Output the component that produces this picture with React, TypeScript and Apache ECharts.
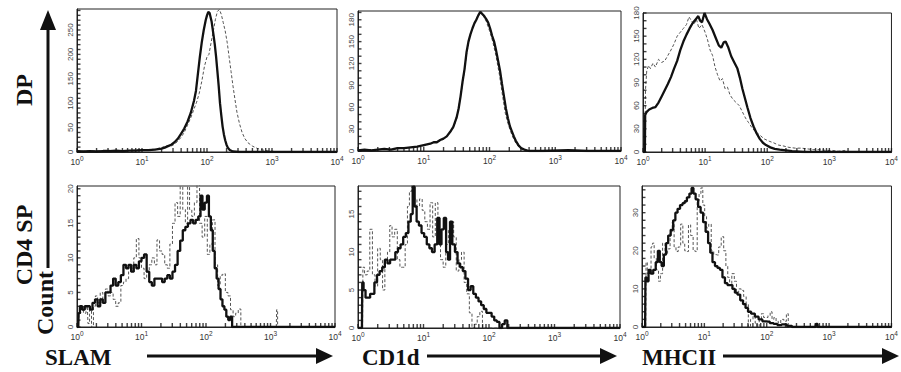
import React, { useEffect, useRef } from "react";
import * as echarts from "echarts";

// x values are log10 of fluorescence (decades), y values are cell counts
const decadeLabels = [0, 1, 2, 3, 4];

const dpSlamSolid = [[0,2],[0.1,1],[0.2,2],[0.3,1],[0.4,2],[0.5,2],[0.6,3],[0.7,2],[0.8,3],[0.9,3],[1.0,4],[1.1,4],[1.2,5],[1.3,7],[1.35,9],[1.4,12],[1.45,15],[1.5,20],[1.55,27],[1.6,37],[1.65,48],[1.7,62],[1.75,80],[1.8,105],[1.83,125],[1.86,160],[1.89,195],[1.92,225],[1.95,250],[1.98,270],[2.0,280],[2.02,287],[2.04,285],[2.07,268],[2.1,240],[2.12,220],[2.14,195],[2.16,165],[2.18,135],[2.2,100],[2.22,75],[2.24,52],[2.26,36],[2.28,24],[2.3,15],[2.32,9],[2.35,4],[2.4,1],[2.5,0],[4,0]];
const dpSlamDashed = [[0,1],[0.2,2],[0.4,2],[0.6,3],[0.8,3],[1.0,5],[1.1,5],[1.2,6],[1.3,9],[1.38,13],[1.45,12],[1.5,16],[1.55,22],[1.6,30],[1.65,40],[1.7,55],[1.75,70],[1.8,88],[1.84,102],[1.88,120],[1.92,145],[1.96,175],[2.0,195],[2.03,200],[2.06,222],[2.1,250],[2.13,272],[2.16,288],[2.19,292],[2.22,282],[2.25,265],[2.28,248],[2.31,225],[2.34,195],[2.37,165],[2.4,135],[2.43,108],[2.46,82],[2.5,58],[2.54,40],[2.58,28],[2.63,19],[2.7,12],[2.78,7],[2.86,4],[2.95,2],[3.05,1],[3.15,0],[4,0]];

const dpCd1dSolid = [[0,1],[0.1,2],[0.2,1],[0.3,2],[0.4,3],[0.5,2],[0.6,4],[0.7,4],[0.8,5],[0.9,6],[1.0,8],[1.05,9],[1.1,10],[1.15,12],[1.2,12],[1.25,15],[1.3,17],[1.35,20],[1.4,26],[1.45,33],[1.5,46],[1.53,58],[1.56,75],[1.59,95],[1.62,112],[1.65,135],[1.68,150],[1.71,160],[1.74,168],[1.77,175],[1.8,180],[1.83,186],[1.86,191],[1.89,188],[1.92,185],[1.95,181],[1.98,176],[2.01,168],[2.04,158],[2.07,150],[2.1,138],[2.13,124],[2.16,110],[2.19,92],[2.22,75],[2.25,58],[2.28,45],[2.31,34],[2.34,27],[2.37,20],[2.4,14],[2.44,8],[2.48,4],[2.53,2],[2.6,0],[2.8,0],[3.2,1],[3.5,0],[4,0]];
const dpCd1dDashed = [[0,2],[0.2,2],[0.4,2],[0.6,3],[0.8,5],[1.0,7],[1.1,10],[1.2,13],[1.3,16],[1.4,25],[1.45,32],[1.5,44],[1.55,70],[1.6,98],[1.65,132],[1.7,157],[1.75,170],[1.8,182],[1.85,190],[1.9,186],[1.95,178],[2.0,165],[2.05,150],[2.1,130],[2.15,105],[2.2,75],[2.24,52],[2.28,38],[2.32,27],[2.36,18],[2.4,11],[2.45,5],[2.5,2],[2.6,0],[4,0]];

const dpMhcSolid = [[0,0],[0.03,0],[0.035,48],[0.06,52],[0.1,55],[0.15,57],[0.2,58],[0.25,64],[0.3,72],[0.35,80],[0.4,88],[0.45,97],[0.5,108],[0.55,118],[0.6,132],[0.65,143],[0.7,152],[0.75,160],[0.8,167],[0.85,172],[0.89,176],[0.92,170],[0.95,168],[0.99,180],[1.03,172],[1.07,166],[1.12,158],[1.17,148],[1.22,138],[1.26,135],[1.3,142],[1.33,143],[1.37,136],[1.42,124],[1.47,116],[1.52,108],[1.56,96],[1.6,82],[1.64,70],[1.68,58],[1.73,44],[1.78,33],[1.83,24],[1.88,17],[1.93,12],[1.98,9],[2.05,6],[2.12,4],[2.2,3],[2.3,2],[2.4,1],[2.6,0],[4,0]];
const dpMhcDashed = [[0,0],[0.03,0],[0.04,80],[0.06,105],[0.09,112],[0.12,108],[0.16,115],[0.2,110],[0.25,120],[0.3,116],[0.35,118],[0.4,125],[0.45,132],[0.5,140],[0.55,150],[0.6,155],[0.65,160],[0.7,165],[0.74,175],[0.78,170],[0.82,165],[0.86,172],[0.9,160],[0.95,165],[1.0,155],[1.04,145],[1.08,132],[1.12,125],[1.16,110],[1.2,100],[1.24,92],[1.28,95],[1.32,82],[1.36,84],[1.4,74],[1.45,68],[1.5,64],[1.55,60],[1.6,52],[1.65,44],[1.7,38],[1.75,32],[1.8,27],[1.88,22],[1.95,17],[2.03,14],[2.1,12],[2.18,9],[2.25,8],[2.35,6],[2.45,5],[2.55,5],[2.65,4],[2.75,3],[2.85,3],[2.95,2],[3.05,2],[3.15,1],[3.25,2],[3.3,0],[4,0]];

const spSlamSolid = [[0,0],[0.02,0],[0.03,2],[0.06,3],[0.1,2.5],[0.14,3],[0.18,3],[0.22,2.5],[0.26,3.5],[0.3,4],[0.34,3],[0.38,4],[0.42,3.5],[0.46,5],[0.5,5],[0.54,6],[0.58,7],[0.62,6],[0.66,6.5],[0.7,7.5],[0.74,9],[0.78,8.5],[0.82,9],[0.86,8],[0.9,9],[0.94,8.5],[0.98,9.5],[1.02,10],[1.06,10.5],[1.1,8],[1.14,6.5],[1.18,6],[1.22,7],[1.26,7],[1.3,7],[1.34,6.5],[1.38,7],[1.42,7.5],[1.46,7],[1.5,8],[1.54,9],[1.58,11],[1.62,12.5],[1.66,14],[1.7,14.5],[1.74,15],[1.78,15.5],[1.82,15],[1.86,15.5],[1.9,16],[1.93,19],[1.96,17],[2.0,18],[2.03,19],[2.06,16],[2.09,14],[2.12,11],[2.15,8.5],[2.18,7],[2.21,5.5],[2.24,4],[2.27,3],[2.3,2.5],[2.33,1.5],[2.36,1],[2.39,1.5],[2.42,0],[4,0]];
const spSlamDashed = [[0,0],[0.02,0],[0.04,2],[0.08,3],[0.12,2],[0.16,3],[0.18,0.5],[0.21,2.5],[0.24,0],[0.27,3],[0.3,4.5],[0.34,3.5],[0.38,5],[0.42,4],[0.46,5.5],[0.5,4.5],[0.54,5],[0.58,4],[0.62,3],[0.66,3.5],[0.7,6],[0.74,6.5],[0.78,7],[0.82,8],[0.86,8.5],[0.9,10],[0.94,12.8],[0.98,10],[1.02,8.5],[1.06,7],[1.1,8],[1.14,9],[1.18,10],[1.22,9],[1.26,12.6],[1.3,11],[1.34,10.5],[1.38,9],[1.42,8.5],[1.46,12],[1.5,15],[1.54,18],[1.58,16],[1.62,21],[1.66,17],[1.7,15],[1.73,21],[1.76,17],[1.8,16],[1.84,18],[1.88,21],[1.92,15],[1.96,13],[2.0,16],[2.04,10.5],[2.08,12],[2.12,15.5],[2.16,9],[2.2,6],[2.24,7.5],[2.28,7.7],[2.32,5],[2.36,4.5],[2.4,2.5],[2.44,1.5],[2.48,2],[2.52,2.6],[2.56,0],[3.09,0],[3.1,2.5],[3.12,0],[4,0]];

const spCd1dSolid = [[0,0],[0.06,0],[0.07,6],[0.1,5],[0.13,4],[0.17,4],[0.2,4.5],[0.23,4.5],[0.27,6],[0.31,7],[0.35,7.5],[0.39,8],[0.43,9],[0.47,8.5],[0.51,9],[0.55,9],[0.59,10],[0.63,10.5],[0.67,11],[0.71,12],[0.75,12.5],[0.79,14],[0.82,15],[0.85,18.6],[0.88,16],[0.91,14],[0.95,13.5],[0.99,12.5],[1.03,12],[1.07,11],[1.11,10.5],[1.15,10],[1.19,11],[1.23,14.5],[1.26,11],[1.29,13],[1.33,14.5],[1.36,10],[1.39,9],[1.42,14],[1.46,11],[1.5,10],[1.54,8.5],[1.58,8],[1.62,7.5],[1.66,6.5],[1.7,5],[1.74,5.5],[1.78,4.5],[1.82,4],[1.86,3.5],[1.9,3],[1.94,2.5],[1.98,2],[2.02,2],[2.06,1.5],[2.1,1],[2.14,0.8],[2.18,0],[2.22,0.5],[2.26,1],[2.3,0],[4,0]];
const spCd1dDashed = [[0,0],[0.07,0],[0.08,8],[0.12,7],[0.16,7.5],[0.2,13],[0.24,7],[0.28,5.5],[0.32,10.5],[0.36,9],[0.39,5],[0.43,9],[0.47,10],[0.5,13.5],[0.54,12],[0.58,13],[0.62,9],[0.66,8],[0.7,8],[0.74,11],[0.77,16],[0.8,18],[0.84,19],[0.88,17],[0.92,16],[0.96,17],[1.0,15.5],[1.04,14],[1.08,13],[1.12,16.5],[1.16,12],[1.2,16.5],[1.24,12],[1.28,9],[1.32,8],[1.36,11],[1.4,13],[1.44,14],[1.48,12],[1.52,7.5],[1.56,9],[1.6,10],[1.64,6],[1.68,4.5],[1.72,2],[1.76,0],[1.8,0.5],[1.84,1.5],[1.88,2.2],[1.92,0],[4,0]];

const spMhcSolid = [[0,0],[0.05,0],[0.06,13],[0.09,12],[0.12,15],[0.16,14],[0.2,15],[0.24,17],[0.27,20],[0.3,17],[0.33,16],[0.37,19],[0.4,22],[0.44,24],[0.48,25.5],[0.52,28],[0.55,30],[0.59,31],[0.63,32],[0.67,32.5],[0.7,33],[0.74,34],[0.78,35],[0.81,36.5],[0.84,35],[0.88,33.5],[0.92,31.5],[0.96,30],[1.0,27.5],[1.04,25],[1.08,22],[1.11,19.5],[1.15,17],[1.19,16],[1.23,15.5],[1.27,15],[1.31,13],[1.35,11.5],[1.39,11],[1.43,11],[1.47,10],[1.51,9],[1.55,8.5],[1.6,7],[1.64,6],[1.68,5],[1.72,4],[1.78,3.5],[1.84,2.7],[1.9,2],[1.96,1.5],[2.02,1.4],[2.08,1],[2.14,0.8],[2.2,0.5],[2.28,0.7],[2.36,0.3],[2.45,0],[2.78,0],[2.8,0.8],[2.83,0],[4,0]];
const spMhcDashed = [[0,0],[0.06,0],[0.07,17],[0.1,14],[0.13,15],[0.16,21],[0.18,22],[0.21,18],[0.25,15],[0.28,12],[0.31,14],[0.35,22],[0.39,19],[0.43,20.5],[0.47,25],[0.5,27.5],[0.53,21],[0.56,19.8],[0.6,21],[0.64,27],[0.67,22],[0.7,20],[0.73,19.8],[0.76,26.8],[0.8,24],[0.84,20],[0.87,19.8],[0.9,33],[0.93,35],[0.96,36.5],[0.99,32],[1.02,29],[1.05,26],[1.09,27],[1.13,20],[1.17,19],[1.21,18.9],[1.25,21],[1.29,23.7],[1.33,20],[1.36,16],[1.39,13],[1.42,10.9],[1.46,14],[1.5,12],[1.53,9],[1.57,10],[1.61,9.6],[1.65,8],[1.69,6],[1.72,0],[1.76,2],[1.8,3.5],[1.83,1],[1.86,0],[1.9,2],[1.93,3.5],[1.97,2.5],[2.0,2.5],[2.04,3],[2.07,4],[2.1,2],[2.13,2.5],[2.17,1.5],[2.2,1],[2.25,2],[2.3,1.5],[2.33,3.5],[2.36,0],[4,0]];

const rowLabels = ["DP", "CD4 SP", "Count"];
const markerLabels = ["SLAM", "CD1d", "MHCII"];

const panels = [
  { grid: { left: 77, top: 9, width: 260, height: 143 }, yMax: 293, labelStep: 50, tickStep: 10, solid: dpSlamSolid, dashed: dpSlamDashed, step: false },
  { grid: { left: 358, top: 11, width: 263, height: 140 }, yMax: 192, labelStep: 30, tickStep: 10, solid: dpCd1dSolid, dashed: dpCd1dDashed, step: false },
  { grid: { left: 643, top: 13, width: 263, height: 139 }, yMax: 180, labelStep: 30, tickStep: 10, solid: dpMhcSolid, dashed: dpMhcDashed, step: false },
  { grid: { left: 77, top: 186, width: 258, height: 141 }, yMax: 20.4, labelStep: 5, tickStep: 1, solid: spSlamSolid, dashed: spSlamDashed, step: "middle" },
  { grid: { left: 358, top: 186, width: 262, height: 142 }, yMax: 18.7, labelStep: 5, tickStep: 1, solid: spCd1dSolid, dashed: spCd1dDashed, step: "middle" },
  { grid: { left: 642, top: 186, width: 263, height: 141 }, yMax: 37, labelStep: 10, tickStep: 2, solid: spMhcSolid, dashed: spMhcDashed, step: "middle" },
];

function range(step: number, max: number) {
  const out: number[] = [];
  for (let v = 0; v <= max + 1e-9; v += step) out.push(Math.round(v * 1000) / 1000);
  return out;
}

// log-decade minor tick positions (1..9 x 10^n)
const logTicks: number[] = [];
for (let d = 0; d < 4; d++) for (let k = 1; k <= 9; k++) logTicks.push(d + Math.log10(k));
logTicks.push(4);

export default function App() {
  const ref = useRef<HTMLDivElement>(null);
  useEffect(() => {
    document.body.style.margin = "0";
    document.body.style.overflow = "hidden";
    const chart = echarts.init(ref.current!, undefined, { renderer: "svg" });
    const axisColor = "#222";
    const serif = "'Liberation Serif', 'Times New Roman', serif";
    const sans = "'Liberation Sans', Arial, sans-serif";
    const option: any = {
      animation: false,
      backgroundColor: "#fff",
      grid: panels.map((p) => ({ ...p.grid, show: true, borderColor: axisColor, borderWidth: 1, backgroundColor: "transparent" })),
      xAxis: panels.map((p, i) => ({
        type: "value",
        gridIndex: i,
        min: 0,
        max: 4,
        interval: 1,
        axisLine: { lineStyle: { color: axisColor, width: 1 } },
        axisTick: { show: false },
        splitLine: { show: false },
        axisLabel: {
          customValues: decadeLabels,
          margin: 3,
          formatter: (v: number) => `{b|10}{s|${Math.round(v)}}`,
          rich: {
            b: { fontSize: 8.5, color: "#333", fontFamily: sans, verticalAlign: "bottom" },
            s: { fontSize: 6.5, color: "#333", fontFamily: sans, verticalAlign: "top", padding: [0, 0, 4, 0] },
          },
        },
      })),
      yAxis: panels.map((p, i) => ({
        type: "value",
        gridIndex: i,
        min: 0,
        max: p.yMax,
        axisLine: { show: true, lineStyle: { color: axisColor, width: 1 } },
        axisTick: { show: false },
        splitLine: { show: false },
        axisLabel: {
          customValues: range(p.labelStep, p.yMax),
          rotate: 90,
          margin: 3,
          fontSize: 8,
          color: "#444",
          fontFamily: sans,
        },
      })),
      series: panels.flatMap((p, i) => [
        {
          type: "scatter",
          xAxisIndex: i,
          yAxisIndex: i,
          data: logTicks.map((t) => [t, 0]),
          symbol: "rect",
          symbolSize: [1.4, 4],
          symbolOffset: [0, -2],
          itemStyle: { color: "#111" },
          clip: false,
          silent: true,
          z: 5,
        },
        {
          type: "scatter",
          xAxisIndex: i,
          yAxisIndex: i,
          data: range(p.tickStep, p.yMax).map((v) => [0, v]),
          symbol: "rect",
          symbolSize: [3.5, 1.4],
          symbolOffset: [1.75, 0],
          itemStyle: { color: "#111" },
          clip: false,
          silent: true,
          z: 5,
        },
        {
          type: "line",
          xAxisIndex: i,
          yAxisIndex: i,
          data: p.dashed,
          showSymbol: false,
          step: p.step,
          clip: true,
          lineStyle: { color: "#555", width: 1, type: [3, 2] },
          z: 2,
        },
        {
          type: "line",
          xAxisIndex: i,
          yAxisIndex: i,
          data: p.solid,
          showSymbol: false,
          step: p.step,
          clip: true,
          lineStyle: { color: "#111", width: 2.3 },
          z: 3,
        },
      ]),
      graphic: [
        { type: "text", x: 24, y: 90, rotation: Math.PI / 2, style: { text: rowLabels[0], font: `bold 24px ${serif}`, fill: "#111", align: "center", verticalAlign: "middle" } },
        { type: "text", x: 24, y: 245, rotation: Math.PI / 2, style: { text: rowLabels[1], font: `bold 24px ${serif}`, fill: "#111", align: "center", verticalAlign: "middle" } },
        { type: "text", x: 45, y: 303, rotation: Math.PI / 2, style: { text: rowLabels[2], font: `bold 24px ${serif}`, fill: "#111", align: "center", verticalAlign: "middle" } },
        { type: "line", shape: { x1: 48, y1: 268, x2: 48, y2: 28 }, style: { stroke: "#111", lineWidth: 3 } },
        { type: "polygon", shape: { points: [[40, 30], [56, 30], [48, 10]] }, style: { fill: "#111" } },
        { type: "text", x: 45, y: 357, style: { text: markerLabels[0], font: `bold 23px ${serif}`, fill: "#111", align: "left", verticalAlign: "middle" } },
        { type: "line", shape: { x1: 147, y1: 356, x2: 318, y2: 356 }, style: { stroke: "#111", lineWidth: 3 } },
        { type: "polygon", shape: { points: [[316, 348], [316, 364], [333, 356]] }, style: { fill: "#111" } },
        { type: "text", x: 362, y: 357, style: { text: markerLabels[1], font: `bold 23px ${serif}`, fill: "#111", align: "left", verticalAlign: "middle" } },
        { type: "line", shape: { x1: 427, y1: 356, x2: 602, y2: 356 }, style: { stroke: "#111", lineWidth: 3 } },
        { type: "polygon", shape: { points: [[600, 348], [600, 364], [617, 356]] }, style: { fill: "#111" } },
        { type: "text", x: 642, y: 357, style: { text: markerLabels[2], font: `bold 23px ${serif}`, fill: "#111", align: "left", verticalAlign: "middle" } },
        { type: "line", shape: { x1: 723, y1: 356, x2: 884, y2: 356 }, style: { stroke: "#111", lineWidth: 3 } },
        { type: "polygon", shape: { points: [[882, 348], [882, 364], [899, 356]] }, style: { fill: "#111" } },
      ],
    };
    chart.setOption(option);
    return () => chart.dispose();
  }, []);
  return <div ref={ref} style={{ width: 901, height: 372 }} />;
}
